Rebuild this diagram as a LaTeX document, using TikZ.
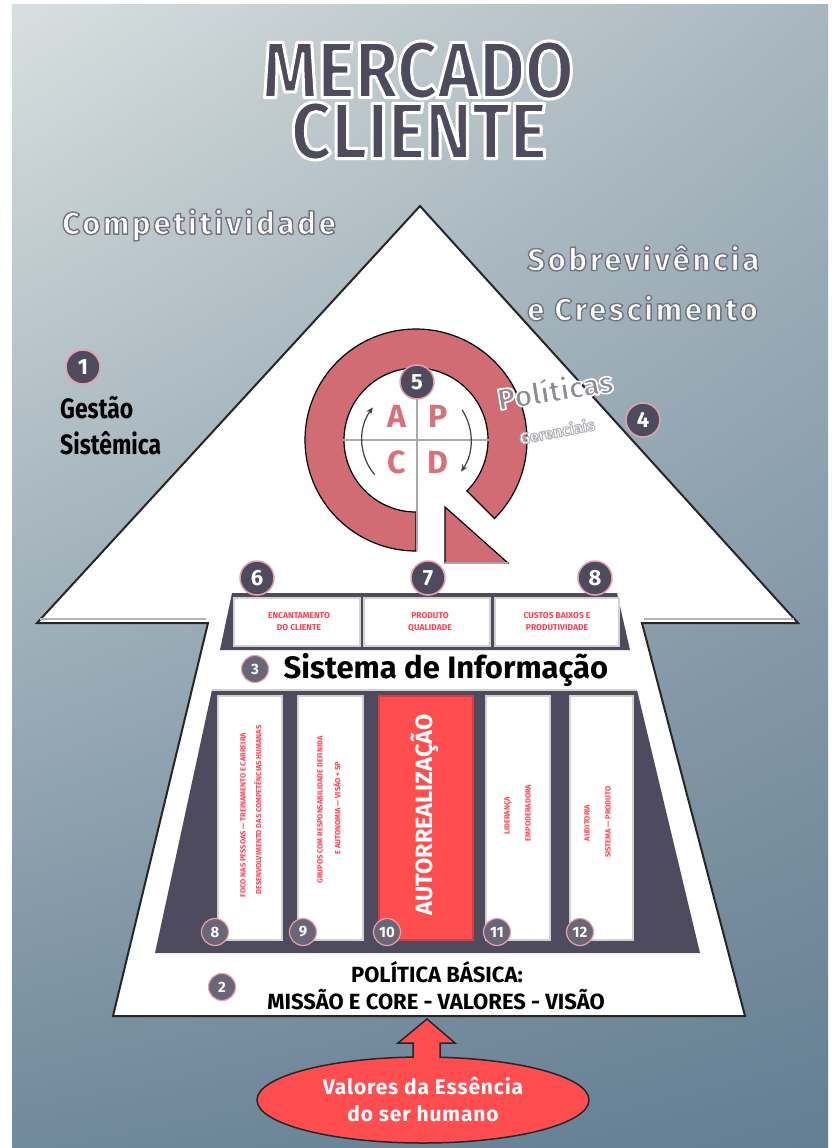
\documentclass[tikz,border=0pt]{standalone}
\usepackage{fontspec}
\setmainfont{Fira Sans}
\newfontfamily\narrowf[FakeStretch=0.82]{Fira Sans}
\newfontfamily\titlef[FakeStretch=0.88]{Fira Sans}
\newfontfamily\widef[LetterSpace=9]{Fira Sans}
\newfontfamily\spacedf[LetterSpace=4]{Fira Sans}
\usetikzlibrary{shapes.geometric,arrows.meta,shadings}
\newcommand\outl[3]{\special{pdf:code q #1 RG #2 w 2 Tr 1 J 1 j}#3\special{pdf:code Q}}
\definecolor{bgUL}{RGB}{216,223,223}
\definecolor{bgUR}{RGB}{168,183,191}
\definecolor{bgLL}{RGB}{112,137,155}
\definecolor{bgLR}{RGB}{100,126,146}
\definecolor{darkc}{RGB}{79,75,95}
\definecolor{ringc}{RGB}{210,108,116}
\definecolor{apcd}{RGB}{218,112,122}
\definecolor{redp}{RGB}{255,77,80}
\definecolor{redb}{RGB}{215,60,64}
\definecolor{pinkr}{RGB}{232,160,168}
\definecolor{boxtxt}{RGB}{255,64,80}
\definecolor{crossg}{RGB}{170,170,170}
\definecolor{polg}{RGB}{140,140,146}
\tikzset{
  num/.style={circle, fill=darkc, draw=pinkr, line width=1.5pt, text=white,
    font=\bfseries\fontsize{22}{22}\selectfont, minimum size=34pt, inner sep=0pt},
  numsm/.style={num, fill=darkc!85, minimum size=27pt, line width=1.2pt,
    font=\bfseries\fontsize{15}{15}\selectfont},
  boxw/.style={fill=white, draw=gray!35, line width=2pt},
  boxlabel/.style={text=boxtxt, font=\bfseries\fontsize{8.5}{12}\selectfont, align=center, inner sep=0pt},
  pillarlabel/.style={text=boxtxt, rotate=90, font=\bfseries\fontsize{7.5}{8}\selectfont, inner sep=0pt},
  letter/.style={text=apcd, font=\bfseries\fontsize{32}{32}\selectfont, inner sep=0pt},
  titletext/.style={text=darkc, font=\titlef\bfseries\fontsize{80}{80}\selectfont, inner sep=0pt},
  sidetext/.style={text=white, font=\widef\bfseries\fontsize{31}{31}\selectfont, inner sep=0pt},
  basetext/.style={font=\bfseries\fontsize{22}{22}\selectfont, inner sep=0pt},
}
\begin{document}
\begin{tikzpicture}[x=1pt,y=1pt]
\useasboundingbox (0,0) rectangle (832,-1148);
\fill[white] (0,0) rectangle (832,-1148);
\shade[upper left=bgUL, upper right=bgUR, lower left=bgLL, lower right=bgLR] (12,-5) rectangle (828,-1148);

% title
\node[titletext] (t1) at (418,-70) {\outl{1 1 1}{3}{MERCADO}};
\node[titletext] (t2) at (419,-131) {\outl{1 1 1}{3}{CLIENTE}};

% side texts
\node[sidetext] (comp) at (199,-225) {\outl{0.45 0.45 0.5}{1.4}{Competitividade}};
\node[sidetext, anchor=west] (sob1) at (527,-258) {\outl{0.45 0.45 0.5}{1.4}{Sobrevivência}};
\node[sidetext, anchor=west] (sob2) at (527,-308) {\outl{0.45 0.45 0.5}{1.4}{e Crescimento}};

\node[num] (n1) at (83,-367) {1};
\node[font=\narrowf\bfseries\fontsize{28}{28}\selectfont, anchor=west, inner sep=0pt] (g1) at (60,-408) {Gestão};
\node[font=\narrowf\bfseries\fontsize{28}{28}\selectfont, anchor=west, inner sep=0pt] (g2) at (60,-443) {Sistêmica};

% big arrow
\draw[fill=white, draw=black!85, line width=2pt, line join=miter]
  (420,-206) -- (798,-623) -- (642,-623) -- (745,-1016) -- (113,-1016) -- (208,-623) -- (37,-623) -- cycle;
\draw[gray!60, line width=1.5pt] (40,-619) -- (206,-619);
\draw[gray!60, line width=1.5pt] (644,-619) -- (794,-619);

% PDCA ring
\begin{scope}[shift={(416,-440)}]
  \draw[fill=ringc, draw=black, line width=1.2pt]
    (-45:111) arc[start angle=-45, end angle=270, radius=111pt]
    -- (270:72) arc[start angle=270, end angle=-45, radius=72pt] -- cycle;
  \draw[crossg, line width=1.8pt] (-73,0) -- (73,0);
  \draw[crossg, line width=1.8pt] (1,72) -- (1,-111);
  \draw[black!75, line width=1.2pt, -{Stealth[length=7pt,width=6pt]}] (220:54) arc[start angle=220, end angle=143, radius=54pt];
  \draw[black!75, line width=1.2pt, -{Stealth[length=7pt,width=6pt]}] (33:55) arc[start angle=33, end angle=-35, radius=55pt];
\end{scope}
\draw[fill=ringc, draw=black, line width=1.2pt] (445,-507) -- (508,-563) -- (445,-563) -- cycle;
\draw[gray!70, line width=1.5pt] (445,-563) -- (508,-563);
\node[letter] (lA) at (397,-416) {A};
\node[letter] (lP) at (438,-416) {P};
\node[letter] (lC) at (397,-462) {C};
\node[letter] (lD) at (438,-462) {D};
\node[num] (n5) at (417,-382) {5};

% Politicas
\node[rotate=9, text=polg, font=\bfseries\fontsize{30}{30}\selectfont, inner sep=0pt] (pol) at (555,-389) {\outl{1 1 1}{1.6}{Políticas}};
\node[rotate=11, text=white, font=\bfseries\fontsize{16}{16}\selectfont, inner sep=0pt] (ger) at (557,-431) {\outl{0.7 0.7 0.72}{1}{Gerenciais}};
\node[num] (n4) at (643,-420) {4};

% upper boxes
\fill[darkc] (232,-593) -- (617,-593) -- (630,-650) -- (220,-650) -- cycle;
\draw[boxw] (234,-598) rectangle (360,-646);
\draw[boxw] (364,-598) rectangle (490,-646);
\draw[boxw] (495,-598) rectangle (619,-646);
\node[boxlabel] (b1) at (299,-622) {ENCANTAMENTO\\DO CLIENTE};
\node[boxlabel] (b2) at (430,-622) {PRODUTO\\QUALIDADE};
\node[boxlabel] (b3) at (557,-622) {CUSTOS BAIXOS E\\PRODUTIVIDADE};
\node[num] (n6) at (257,-578) {6};
\node[num] (n7) at (428,-578) {7};
\node[num] (n8) at (595,-578) {8};

% sistema de informacao
\node[numsm] (n3) at (255,-669) {3};
\node[font=\bfseries\fontsize{31}{31}\selectfont, inner sep=0pt] (si) at (446,-670) {Sistema de Informação};

% pillars
\fill[darkc] (212,-690) -- (637,-690) -- (700,-953) -- (155,-953) -- cycle;
\draw[gray!35, line width=1.5pt] (212,-690) -- (637,-690);
\draw[boxw] (218,-696) rectangle (282,-940);
\draw[boxw] (298,-696) rectangle (363,-940);
\draw[fill=redp, draw=redb, line width=2pt] (379,-696) rectangle (473,-940);
\draw[boxw] (486,-696) rectangle (550,-940);
\draw[boxw] (570,-696) rectangle (633,-940);
\node[pillarlabel] (p1a) at (243,-815) {FOCO NAS PESSOAS — TREINAMENTO E CARREIRA};
\node[pillarlabel] (p1b) at (258,-810) {DESENVOLVIMENTO DAS COMPETÊNCIAS HUMANAS};
\node[pillarlabel] (p2a) at (320,-810) {GRUPOS COM RESPONSABILIDADE DEFINIDA};
\node[pillarlabel] (p2b) at (337,-808) {E AUTONOMIA — VISÃO + SP};
\node[rotate=90, text=white, font=\bfseries\fontsize{23.5}{23.5}\selectfont, inner sep=0pt] (p3) at (425,-815) {AUTORREALIZAÇÃO};
\node[pillarlabel] (p4a) at (508,-816) {LIDERANÇA};
\node[pillarlabel] (p4b) at (528,-813) {EMPODERADORA};
\node[pillarlabel] (p5a) at (587,-823) {AUDITORIA};
\node[pillarlabel] (p5b) at (608,-822) {SISTEMA — PRODUTO};
\node[numsm] (n8b) at (215,-932) {8};
\node[numsm] (n9) at (303,-932) {9};
\node[numsm] (n10) at (387,-932) {10};
\node[numsm] (n11) at (497,-932) {11};
\node[numsm] (n12) at (580,-932) {12};

% base
\node[numsm] (n2) at (222,-987) {2};
\node[basetext] (pb) at (437,-972) {POLÍTICA BÁSICA:};
\node[basetext] (mv) at (436,-1000) {MISSÃO E CORE - VALORES - VISÃO};

% essence ellipse and arrow
\node[ellipse, fill=redp, draw=black!85, line width=1.5pt, minimum width=332pt, minimum height=86pt,
  text=white, font=\spacedf\bfseries\fontsize{21}{27}\selectfont, align=center, inner sep=0pt] (ess) at (423,-1100)
  {Valores da Essência\\do ser humano};
\fill[redp] (413,-1064) -- (413,-1043) -- (398,-1043) -- (427,-1019) -- (455,-1043) -- (440,-1043) -- (440,-1064) -- cycle;
\draw[black!85, line width=1.5pt, line join=miter] (413,-1058) -- (413,-1043) -- (398,-1043) -- (427,-1019) -- (455,-1043) -- (440,-1043) -- (440,-1058);
\end{tikzpicture}
\end{document}
